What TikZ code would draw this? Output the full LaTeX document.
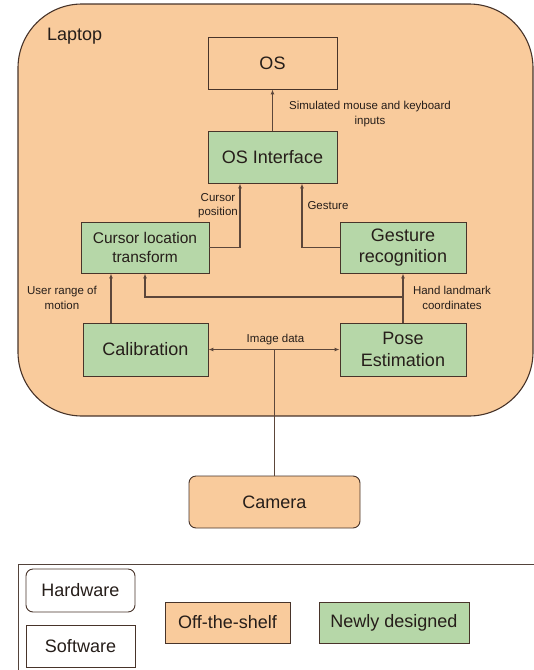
\documentclass[tikz,border=0pt]{standalone}
\usepackage{fontspec}
\setmainfont{Liberation Sans}
\usetikzlibrary{arrows.meta}

\definecolor{shelf}{HTML}{F9CB9C}
\definecolor{newly}{HTML}{B6D7A8}
\definecolor{edge}{RGB}{72,52,42}
\definecolor{wire}{RGB}{92,70,58}
\definecolor{ink}{RGB}{38,30,26}

\begin{document}
\begin{tikzpicture}[x=1pt,y=-1pt,
	box/.style={draw=edge, line width=0.9pt, text=ink, align=center, inner sep=0pt,
		font=\fontsize{18}{21}\selectfont},
	sw/.style={box, fill=newly},
	hw/.style={box, fill=shelf, rounded corners=7pt},
	lbl/.style={text=ink, align=center, inner sep=0pt, font=\fontsize{11.5}{14.5}\selectfont},
	arr/.style={draw=wire, line width=1.1pt, -{Latex[length=5pt,width=4pt]}}]
\useasboundingbox (0,0) rectangle (534,670);
\clip (0,0) rectangle (534,670);

% laptop
\draw[edge, fill=shelf, line width=1.1pt, rounded corners=64pt] (18,4) rectangle (533,416);
\node[text=ink, inner sep=0pt, anchor=west, font=\fontsize{18}{21}\selectfont] (laptop) at (47,36) {Laptop};

% blocks
\node[box, fill=shelf, minimum width=129pt, minimum height=52pt] (os) at (272.5,63) {OS};
\node[sw, minimum width=129pt, minimum height=52pt] (osif) at (272.5,157) {OS Interface};
\node[sw, minimum width=128pt, minimum height=51pt, font=\fontsize{15.5}{19}\selectfont] (cursor) at (145,247.5) {Cursor location\\transform};
\node[sw, minimum width=126pt, minimum height=51pt] (gesture) at (403,247.5) {Gesture\\recognition};
\node[sw, minimum width=125pt, minimum height=53pt] (calib) at (145.5,349.5) {Calibration};
\node[sw, minimum width=126pt, minimum height=53pt, font=\fontsize{18}{22}\selectfont] (pose) at (403,349.5) {Pose\\Estimation};
\node[hw, minimum width=171pt, minimum height=52pt] (camera) at (274.5,502) {Camera};

% connectors
\draw[arr] (osif.north) -- (os.south);
\draw[arr] (cursor.east) -| ([xshift=-32.5pt]osif.south);
\draw[arr] (gesture.west) -| ([xshift=29.5pt]osif.south);
\draw[arr] ([xshift=-34.5pt]calib.north) -- ([xshift=-34.5pt]calib.north |- cursor.south);
\draw[arr] (pose.north) -- (gesture.south);
\coordinate (hand) at (pose.north |- 0,297);
\draw[arr] (hand) -| (cursor.south);
\coordinate (img) at (camera.north |- calib.east);
\draw[wire, line width=1.1pt] (camera.north) -- (img);
\draw[arr] (img) -- (calib.east);
\draw[arr] (img) -- (pose.west);

% labels
\node[lbl] (simlbl) at (370,114) {Simulated mouse and keyboard\\inputs};
\node[lbl] (curlbl) at (218,205.5) {Cursor\\position};
\node[lbl] (geslbl) at (328,206) {Gesture};
\node[lbl] (userlbl) at (62,298) {User range of\\motion};
\node[lbl] (handlbl) at (452,298) {Hand landmark\\coordinates};
\node[lbl] (imglbl) at (275.5,340) {Image data};

% legend
\draw[draw=edge!80!gray, line width=0.9pt] (18,564) rectangle (545,685);
\node[box, fill=white, rounded corners=7pt, minimum width=109pt, minimum height=43pt] (hardware) at (80.5,590.5) {Hardware};
\node[box, fill=white, minimum width=109pt, minimum height=42pt] (software) at (80.5,646) {Software};
\node[box, fill=shelf, minimum width=125pt, minimum height=41pt] (offshelf) at (227.5,622.5) {Off-the-shelf};
\node[box, fill=newly, minimum width=150pt, minimum height=41pt] (newdes) at (394,622.5) {Newly designed};
\end{tikzpicture}
\end{document}
